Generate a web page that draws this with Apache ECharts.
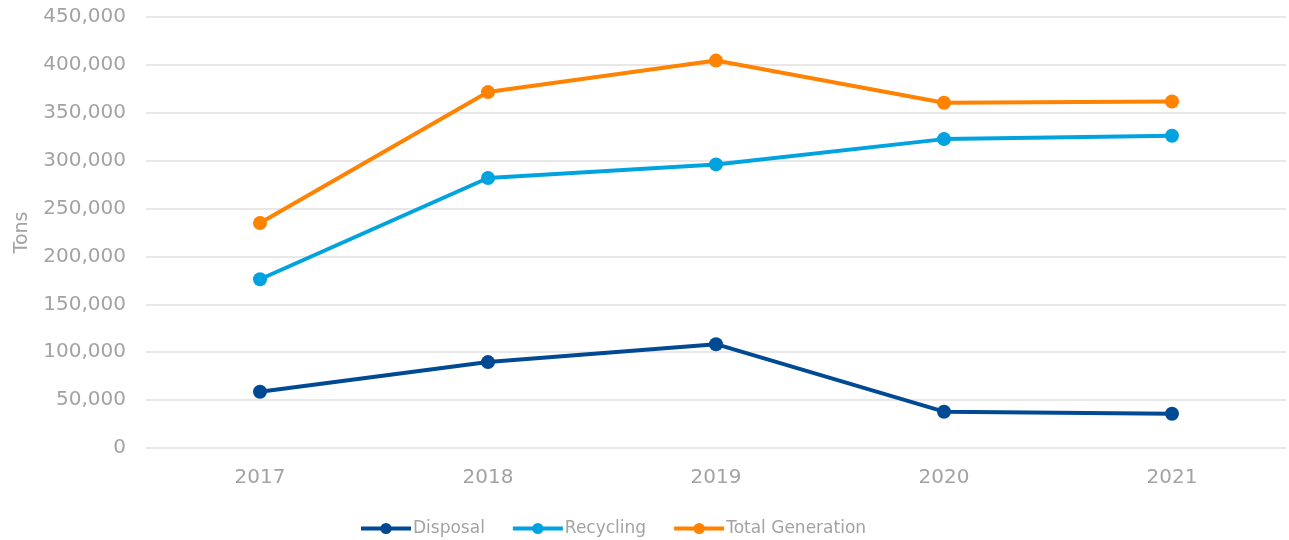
<!DOCTYPE html>
<html>
<head>
<meta charset="utf-8">
<script src="https://cdn.jsdelivr.net/npm/echarts@6/dist/echarts.min.js"></script>
<style>
  html, body { margin: 0; padding: 0; background: #fff; }
  #main { width: 1289px; height: 540px; }
</style>
</head>
<body>
<div id="main"></div>
<script>
  // data
  var years = ['2017', '2018', '2019', '2020', '2021'];
  var disposal = [58700, 89700, 108400, 37900, 35800];
  var recycling = [176200, 281900, 296100, 322500, 326000];
  var totalGeneration = [234900, 371600, 404500, 360400, 361800];

  var textColor = '#a3a3a3';
  var fontFamily = 'DejaVu Sans';

  function lineSeries(name, data, color) {
    return {
      name: name,
      type: 'line',
      data: data,
      symbol: 'circle',
      symbolSize: 14,
      lineStyle: { width: 4, color: color },
      itemStyle: { color: color },
      animation: false
    };
  }

  var chart = echarts.init(document.getElementById('main'));
  var option = {
    textStyle: { fontFamily: fontFamily },
    grid: { left: 146, right: 3, top: 17, bottom: 92 },
    legend: {
      bottom: -2,
      left: 354,
      itemWidth: 50,
      itemHeight: 14,
      itemGap: 26,
      lineStyle: { width: 4 },
      textStyle: { color: textColor, fontSize: 17, fontFamily: fontFamily, padding: [0, 0, 0, -3] }
    },
    xAxis: {
      type: 'category',
      data: years,
      boundaryGap: true,
      axisLine: { show: false },
      axisTick: { show: false },
      axisLabel: { color: textColor, fontSize: 20, margin: 20 }
    },
    yAxis: {
      type: 'value',
      min: 0,
      max: 450000,
      interval: 50000,
      name: 'Tons',
      nameLocation: 'middle',
      nameGap: 114,
      nameTextStyle: { color: textColor, fontSize: 19 },
      axisLine: { show: false },
      axisTick: { show: false },
      splitLine: { lineStyle: { color: '#e8e8e8', width: 2 } },
      axisLabel: {
        color: textColor,
        fontSize: 20,
        margin: 20,
        formatter: function (v) { return v.toLocaleString('en-US'); }
      }
    },
    series: [
      lineSeries('Disposal', disposal, '#004a93'),
      lineSeries('Recycling', recycling, '#00a3e0'),
      lineSeries('Total Generation', totalGeneration, '#ff8200')
    ]
  };
  chart.setOption(option);
</script>
</body>
</html>
